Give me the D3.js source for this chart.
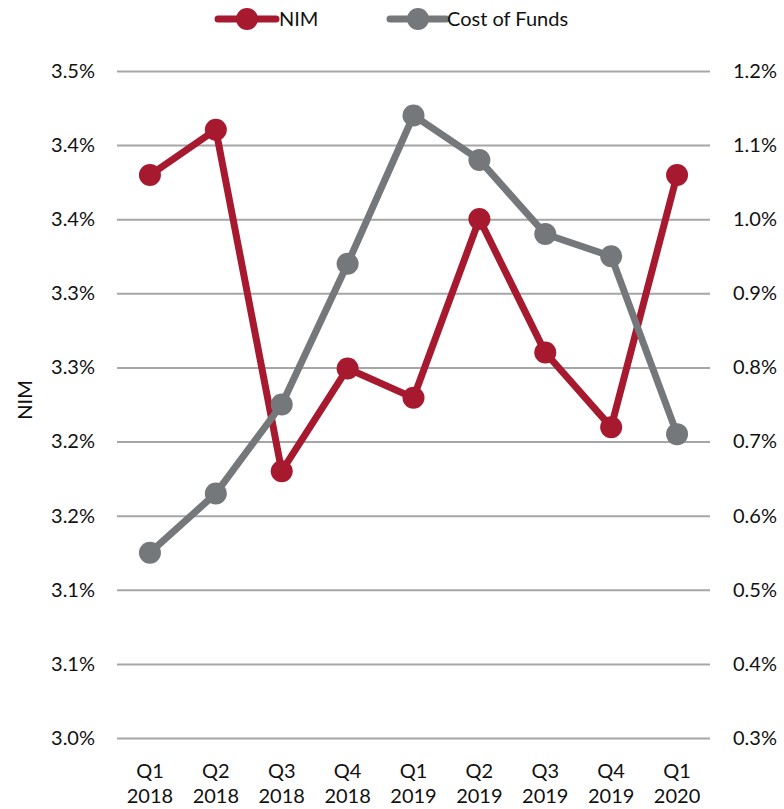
<!DOCTYPE html>
<html><head><meta charset="utf-8">
<script src="https://cdn.jsdelivr.net/npm/d3@7"></script>
<style>body{margin:0;background:#fff}svg{display:block}text{font-family:Lato,"Open Sans",sans-serif;fill:#111}</style>
</head><body>
<svg id="c" width="784" height="809"></svg>
<script>
const quarters = ["Q1","Q2","Q3","Q4","Q1","Q2","Q3","Q4","Q1"];
const years = ["2018","2018","2018","2018","2019","2019","2019","2019","2020"];
const categories = quarters.map((q,i)=>q+" "+years[i]);
const nim = [3.422, 3.456, 3.200, 3.277, 3.255, 3.389, 3.289, 3.233, 3.422];
const costOfFunds = [0.55, 0.63, 0.75, 0.94, 1.14, 1.08, 0.98, 0.95, 0.71];
const leftTickLabels = ["3.0%","3.1%","3.1%","3.2%","3.2%","3.3%","3.3%","3.4%","3.4%","3.5%"];
const rightTickLabels = ["0.3%","0.4%","0.5%","0.6%","0.7%","0.8%","0.9%","1.0%","1.1%","1.2%"];
const leftDomain = [3.0, 3.5];
const rightDomain = [0.3, 1.2];

const svg = d3.select("#c");
const m = {l:117, r:710, t:71, b:738};
const x = d3.scaleBand().domain(categories).range([m.l, m.r]);
const yL = d3.scaleLinear().domain(leftDomain).range([m.b, m.t]);
const yR = d3.scaleLinear().domain(rightDomain).range([m.b, m.t]);
const leftTicks = leftTickLabels.map((_,i)=>leftDomain[0]+i*(leftDomain[1]-leftDomain[0])/(leftTickLabels.length-1));
const rightTicks = rightTickLabels.map((_,i)=>rightDomain[0]+i*(rightDomain[1]-rightDomain[0])/(rightTickLabels.length-1));

// grid
const axL = d3.axisLeft(yL).tickValues(leftTicks).tickFormat((d,i)=>leftTickLabels[i]).tickSize(-(m.r-m.l)).tickPadding(22);
const gL = svg.append("g").attr("transform",`translate(${m.l},0)`).call(axL);
gL.select(".domain").remove();
gL.selectAll("line").attr("stroke","#a6a6a6").attr("stroke-width",2);
gL.selectAll("text").style("font-size","20px").attr("fill","#111");

const axR = d3.axisRight(yR).tickValues(rightTicks).tickFormat((d,i)=>rightTickLabels[i]).tickSize(0).tickPadding(23);
const gR = svg.append("g").attr("transform",`translate(${m.r},0)`).call(axR);
gR.select(".domain").remove();
gR.selectAll("text").style("font-size","20px").attr("fill","#111");

// x axis labels
const gx = svg.append("g");
categories.forEach((c,i)=>{
  const cx = x(c)+x.bandwidth()/2;
  const t = gx.append("text").attr("x",cx).attr("text-anchor","middle").style("font-size","20px");
  t.append("tspan").attr("x",cx).attr("y",778).text(quarters[i]);
  t.append("tspan").attr("x",cx).attr("y",803).text(years[i]);
});

// y title
svg.append("text").attr("transform","translate(32,400) rotate(-90)").attr("text-anchor","middle").style("font-size","20px").text("NIM");

const red = "#a6192e", gray = "#75787b";
const cx = d => x(d)+x.bandwidth()/2;
function series(vals, y, color){
  const line = d3.line().x((d,i)=>cx(categories[i])).y(d=>y(d));
  svg.append("path").datum(vals).attr("d",line).attr("fill","none").attr("stroke",color).attr("stroke-width",7).attr("stroke-linejoin","round");
  svg.append("g").selectAll("circle").data(vals).join("circle")
    .attr("cx",(d,i)=>cx(categories[i])).attr("cy",d=>y(d)).attr("r",11).attr("fill",color);
}
series(nim, yL, red);
series(costOfFunds, yR, gray);

// legend
const legend = [{name:"NIM",color:red,x0:218,x1:276,tx:279},{name:"Cost of Funds",color:gray,x0:390,x1:446,tx:447}];
legend.forEach(l=>{
  svg.append("line").attr("x1",l.x0).attr("x2",l.x1).attr("y1",19).attr("y2",19).attr("stroke",l.color).attr("stroke-width",7).attr("stroke-linecap","round");
  svg.append("circle").attr("cx",(l.x0+l.x1)/2).attr("cy",19).attr("r",11).attr("fill",l.color);
  svg.append("text").attr("x",l.tx).attr("y",26).style("font-size","20px").text(l.name);
});
</script>
</body></html>
